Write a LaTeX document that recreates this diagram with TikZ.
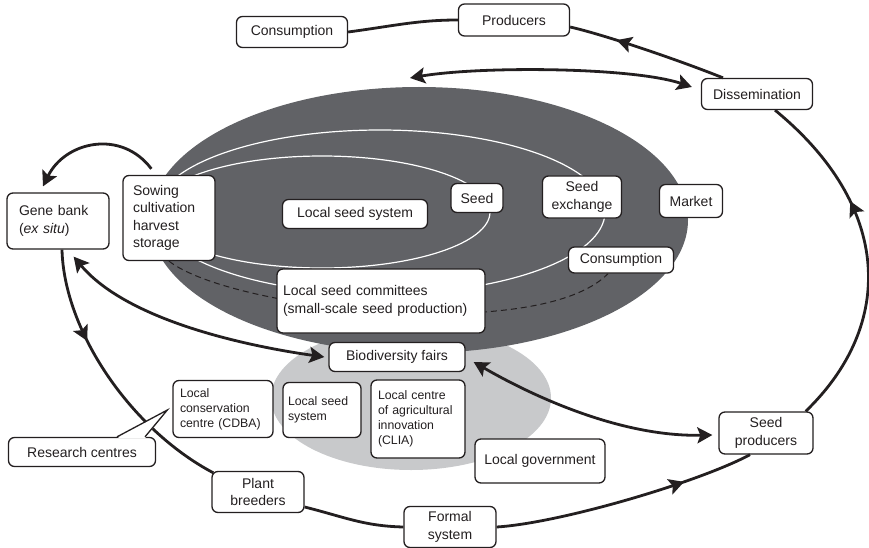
\documentclass[tikz,border=0pt]{standalone}
\usepackage{fontspec}
\setmainfont{Liberation Sans}
\usepackage{tikz}
\usetikzlibrary{arrows.meta, positioning, calc, backgrounds, decorations.markings}
\definecolor{ink}{RGB}{35,31,32}
\definecolor{seedDark}{RGB}{97,98,102}
\definecolor{seedLight}{RGB}{200,201,203}
\tikzset{
  box/.style  = {rectangle, draw=ink, fill=white, line width=1.3pt, rounded corners=6pt,
                 text=ink, align=center, inner sep=0pt, font=\fontsize{14}{17.3}\selectfont},
  boxS/.style = {box, font=\fontsize{12.3}{15}\selectfont},
  link/.style = {draw=ink, line width=2.8pt, >={Stealth[length=15pt,width=16pt,inset=3pt]}},
  arrow/.style  = {link, ->},
  darrow/.style = {link, <->},
  midarrow/.style = {link, postaction={decorate},
                     decoration={markings, mark=at position #1 with {\arrow{>}}}},
  whitearc/.style = {draw=white, line width=1.2pt},
}

\begin{document}
\begin{tikzpicture}[x=1pt, y=-1pt]
    \useasboundingbox (0,0) rectangle (869,548);

    %% outer loop boxes
    \node[box, minimum width=111pt, minimum height=31pt] (cons) at (292, 32) {Consumption};
    \node[box, minimum width=111pt, minimum height=32pt] (prod) at (514, 20) {Producers};
    \node[box, minimum width=111pt, minimum height=31pt] (dis)  at (757, 94) {Dissemination};
    \node[box, align=left, text width=78pt, minimum width=102pt, minimum height=56pt]
         (gb) at (58, 221) {Gene bank\\(\textit{ex situ})};
    \node[box, minimum width=94pt, minimum height=42pt] (sp) at (766, 433) {Seed\\producers};
    \node[box, minimum width=92pt, minimum height=41pt] (fs) at (450, 527) {Formal\\system};
    \node[box, minimum width=92pt, minimum height=41pt] (pb) at (258, 492) {Plant\\breeders};
    \node[box, minimum width=147pt, minimum height=29pt] (rc) at (82, 452) {Research centres};

    %% local seed system (dark ellipse)
    \node[box, align=left, text width=72pt, minimum width=92pt, minimum height=85pt]
         (sow) at (169, 218) {Sowing\\cultivation\\harvest\\storage};
    \node[box, minimum width=145pt, minimum height=29pt] (lss)   at (355, 214) {Local seed system};
    \node[box, minimum width=52pt,  minimum height=29pt] (seed)  at (477, 198) {Seed};
    \node[box, minimum width=79pt,  minimum height=42pt] (sx)    at (582, 197) {Seed\\exchange};
    \node[box, minimum width=63pt,  minimum height=33pt] (mkt)   at (691, 201) {Market};
    \node[box, minimum width=105pt, minimum height=26pt] (cons2) at (621, 260) {Consumption};
    \node[box, align=left, text width=196pt, minimum width=208pt, minimum height=64pt]
         (lsc) at (381, 301) {Local seed committees\\(small-scale seed production)};

    %% local institutions (light ellipse)
    \node[box, minimum width=136pt, minimum height=29pt] (bf) at (397, 357) {Biodiversity fairs};
    \node[boxS, align=left, text width=86pt, minimum width=100pt, minimum height=57pt]
         (cdba) at (223, 409) {Local\\conservation\\centre (CDBA)};
    \node[boxS, align=left, text width=68pt, minimum width=78pt, minimum height=55pt]
         (lss2) at (322, 410) {Local seed\\system};
    \node[boxS, align=left, text width=80pt, minimum width=94pt, minimum height=78pt]
         (clia) at (418, 419) {Local centre\\of agricultural\\innovation\\(CLIA)};
    \node[box, minimum width=130pt, minimum height=44pt] (gov) at (540, 461) {Local government};

    \begin{scope}[on background layer]
      \fill[seedLight] (411, 398) ellipse [x radius=140pt, y radius=72pt];
      \fill[seedDark]  (419, 220) ellipse [x radius=269pt, y radius=133pt];
      \draw[whitearc]  (380, 212) ellipse [x radius=225pt, y radius=82pt];
      \draw[whitearc]  (322, 212) ellipse [x radius=168pt, y radius=56pt];
      \draw[ink, line width=1pt, dash pattern=on 6pt off 4pt]
           (sow.south) .. controls +(63,49) and +(-68,70) .. ($(cons2.south)+(-13,0)$);
    \end{scope}

    %% outer loop
    \draw[link] (cons.east) .. controls +(45,-6) and +(-40,0) .. (prod.west);
    \draw[midarrow=0.7] ($(dis.north)+(-34,0)$) .. controls +(-45,-18) and +(35,8) .. ($(prod.east)+(0,7)$);
    \draw[midarrow=0.66] ($(sp.north east)+(-8,0)$) .. controls +(90,-87) and +(117,96) .. ($(dis.south)+(18,0)$);
    \draw[midarrow=0.73] (fs.east) .. controls +(64,-4) and +(-50,27) .. ($(sp.south)+(-16,0)$);
    \draw[link] ($(pb.east)+(0,15)$) .. controls +(40,10) and +(-40,-1) .. (fs.west);
    \draw[midarrow=0.34] ($(gb.south)+(4,0)$) .. controls +(2,81) and +(-83,-44) .. ($(pb.north west)+(2,2)$);

    %% inner connections
    \coordinate (lssTop) at (410, 78);
    \draw[darrow] (lssTop) .. controls +(70,-12) and +(-60,-20) .. ($(dis.west)+(-9,-7)$);
    \draw[arrow]  ($(sow.north west)+(29,-6)$) .. controls +(-30,-40) and +(22,-45) .. ($(gb.north)+(-15,-6)$);
    \draw[darrow] ($(gb.south east)+(-36,7)$) .. controls +(52,62) and +(-85,-12) .. ($(bf.west)+(-4,0)$);
    \draw[darrow] ($(bf.east)+(8,5)$) .. controls +(57,33) and +(-93,2) .. ($(sp.west)+(-6,2)$);

    %% callout pointer
    \fill[white] ($(rc.north)+(35,1.5)$) -- ($(cdba.west)+(-5,1)$) -- ($(rc.north)+(63,1.5)$) -- cycle;
    \draw[ink, line width=1.3pt] ($(rc.north)+(35,0)$) -- ($(cdba.west)+(-5,1)$) -- ($(rc.north)+(63,0)$);

\end{tikzpicture}
\end{document}
